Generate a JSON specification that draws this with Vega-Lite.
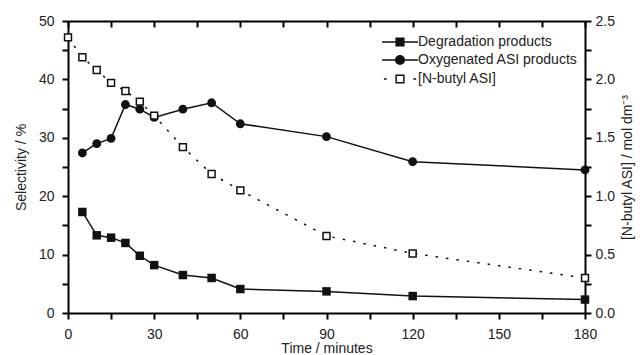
{
  "$schema": "https://vega.github.io/schema/vega-lite/v6.json",
  "width": 517,
  "height": 292,
  "autosize": {"type": "none"},
  "padding": {"left": 68, "top": 21, "right": 57, "bottom": 42},
  "data": {
    "values": [
      {"time": 5, "series": "Degradation products", "value": 17.3},
      {"time": 10, "series": "Degradation products", "value": 13.3},
      {"time": 15, "series": "Degradation products", "value": 12.9},
      {"time": 20, "series": "Degradation products", "value": 12.0},
      {"time": 25, "series": "Degradation products", "value": 9.8},
      {"time": 30, "series": "Degradation products", "value": 8.2},
      {"time": 40, "series": "Degradation products", "value": 6.5},
      {"time": 50, "series": "Degradation products", "value": 6.0},
      {"time": 60, "series": "Degradation products", "value": 4.1},
      {"time": 90, "series": "Degradation products", "value": 3.7},
      {"time": 120, "series": "Degradation products", "value": 2.9},
      {"time": 180, "series": "Degradation products", "value": 2.3},
      {"time": 5, "series": "Oxygenated ASI products", "value": 27.4},
      {"time": 10, "series": "Oxygenated ASI products", "value": 29.0},
      {"time": 15, "series": "Oxygenated ASI products", "value": 29.9},
      {"time": 20, "series": "Oxygenated ASI products", "value": 35.7},
      {"time": 25, "series": "Oxygenated ASI products", "value": 34.9},
      {"time": 30, "series": "Oxygenated ASI products", "value": 33.5},
      {"time": 40, "series": "Oxygenated ASI products", "value": 34.9},
      {"time": 50, "series": "Oxygenated ASI products", "value": 36.0},
      {"time": 60, "series": "Oxygenated ASI products", "value": 32.4},
      {"time": 90, "series": "Oxygenated ASI products", "value": 30.2},
      {"time": 120, "series": "Oxygenated ASI products", "value": 25.9},
      {"time": 180, "series": "Oxygenated ASI products", "value": 24.5},
      {"time": 0, "series": "[N-butyl ASI]", "value": 2.36},
      {"time": 5, "series": "[N-butyl ASI]", "value": 2.19},
      {"time": 10, "series": "[N-butyl ASI]", "value": 2.08},
      {"time": 15, "series": "[N-butyl ASI]", "value": 1.97},
      {"time": 20, "series": "[N-butyl ASI]", "value": 1.90},
      {"time": 25, "series": "[N-butyl ASI]", "value": 1.81},
      {"time": 30, "series": "[N-butyl ASI]", "value": 1.69},
      {"time": 40, "series": "[N-butyl ASI]", "value": 1.42},
      {"time": 50, "series": "[N-butyl ASI]", "value": 1.19},
      {"time": 60, "series": "[N-butyl ASI]", "value": 1.05},
      {"time": 90, "series": "[N-butyl ASI]", "value": 0.66},
      {"time": 120, "series": "[N-butyl ASI]", "value": 0.51},
      {"time": 180, "series": "[N-butyl ASI]", "value": 0.30}
    ]
  },
  "encoding": {
    "x": {
      "field": "time", "type": "quantitative",
      "scale": {"domain": [0, 180], "nice": false},
      "axis": {
        "orient": "bottom",
        "gridOpacity": 0,
        "values": [0, 15, 30, 45, 60, 75, 90, 105, 120, 135, 150, 165, 180],
        "labelExpr": "datum.value % 30 === 0 ? datum.label : ''",
        "domainColor": "black", "domainWidth": 2,
        "tickColor": "black", "tickWidth": 2, "tickSize": 6,
        "labelFont": "Liberation Sans", "labelFontSize": 14, "labelColor": "#222",
        "labelPadding": 8, "labelFlush": false,
        "title": "Time / minutes",
        "titleFont": "Liberation Sans", "titleFontSize": 14, "titleFontWeight": "normal", "titleColor": "#222",
        "titlePadding": 0
      }
    }
  },
  "layer": [
    {
      "encoding": {
        "y": {
          "field": "value", "type": "quantitative",
          "scale": {"domain": [0, 50], "nice": false},
          "axis": {
            "orient": "left",
            "gridOpacity": 0,
            "values": [0, 5, 10, 15, 20, 25, 30, 35, 40, 45, 50],
            "labelExpr": "datum.value % 10 === 0 ? datum.label : ''",
            "domainColor": "black", "domainWidth": 2,
            "tickColor": "black", "tickWidth": 2, "tickSize": 6,
            "labelFont": "Liberation Sans", "labelFontSize": 14, "labelColor": "#222",
            "labelPadding": 8,
            "title": "Selectivity / %",
            "titleFont": "Liberation Sans", "titleFontSize": 14, "titleFontWeight": "normal", "titleColor": "#222",
            "titlePadding": 10
          }
        }
      },
      "layer": [
        {
          "transform": [{"filter": "datum.series !== '[N-butyl ASI]'"}],
          "mark": {"type": "line", "color": "#111", "strokeWidth": 1.5},
          "encoding": {"detail": {"field": "series"}}
        },
        {
          "transform": [{"filter": "datum.series === 'Degradation products'"}],
          "mark": {"type": "point", "shape": "square", "filled": true, "color": "#111", "opacity": 1, "size": 72}
        },
        {
          "transform": [{"filter": "datum.series === 'Oxygenated ASI products'"}],
          "mark": {"type": "point", "shape": "circle", "filled": true, "color": "#111", "opacity": 1, "size": 78}
        },
        {
          "transform": [{"filter": "datum.time < 0"}],
          "mark": {"type": "point", "filled": true, "strokeWidth": 1.5, "opacity": 1, "fillOpacity": 1, "strokeOpacity": 1},
          "encoding": {
            "shape": {
              "field": "series", "type": "nominal",
              "scale": {
                "domain": ["Degradation products", "Oxygenated ASI products", "[N-butyl ASI]"],
                "range": [
                  "M-2.57,0H2.57M-0.55,-0.55H0.55V0.55H-0.55Z",
                  "M-2.57,0H2.57M0.62,0A0.62,0.62,0,1,1,-0.62,0A0.62,0.62,0,1,1,0.62,0Z",
                  "M-2.3,0H-1.9M1.9,0H2.3M-0.55,-0.55H0.55V0.55H-0.55Z"
                ]
              },
              "legend": {
                "orient": "none", "legendX": 324, "legendY": 13, "title": null, "padding": 0,
                "labelFont": "Liberation Sans", "labelFontSize": 14, "labelColor": "#222",
                "symbolSize": 196, "rowPadding": 3, "labelOffset": 10, "symbolStrokeWidth": 1.5
              }
            },
            "fill": {
              "field": "series", "type": "nominal",
              "scale": {
                "domain": ["Degradation products", "Oxygenated ASI products", "[N-butyl ASI]"],
                "range": ["#111111", "#111111", "#ffffff"]
              },
              "legend": {
                "orient": "none", "legendX": 324, "legendY": 13, "title": null, "padding": 0,
                "labelFont": "Liberation Sans", "labelFontSize": 14, "labelColor": "#222",
                "symbolSize": 196, "rowPadding": 3, "labelOffset": 10, "symbolStrokeWidth": 1.5
              }
            },
            "stroke": {
              "field": "series", "type": "nominal",
              "scale": {
                "domain": ["Degradation products", "Oxygenated ASI products", "[N-butyl ASI]"],
                "range": ["#111111", "#111111", "#111111"]
              },
              "legend": {
                "orient": "none", "legendX": 324, "legendY": 13, "title": null, "padding": 0,
                "labelFont": "Liberation Sans", "labelFontSize": 14, "labelColor": "#222",
                "symbolSize": 196, "rowPadding": 3, "labelOffset": 10, "symbolStrokeWidth": 1.5
              }
            }
          }
        }
      ]
    },
    {
      "encoding": {
        "x": {
          "field": "time", "type": "quantitative",
          "scale": {"domain": [0, 180], "nice": false},
          "axis": {
            "orient": "top",
            "gridOpacity": 0,
            "values": [0, 15, 30, 45, 60, 75, 90, 105, 120, 135, 150, 165, 180],
            "labels": false,
            "title": null,
            "domainColor": "black", "domainWidth": 2,
            "tickColor": "black", "tickWidth": 2, "tickSize": -6
          }
        },
        "y": {
          "field": "value", "type": "quantitative",
          "scale": {"domain": [0, 2.5], "nice": false},
          "axis": {
            "orient": "right",
            "gridOpacity": 0,
            "values": [0, 0.25, 0.5, 0.75, 1, 1.25, 1.5, 1.75, 2, 2.25, 2.5],
            "format": ".1f",
            "labelExpr": "round(datum.value * 4) % 2 === 0 ? datum.label : ''",
            "domainColor": "black", "domainWidth": 2,
            "tickColor": "black", "tickWidth": 2, "tickSize": 6,
            "labelFont": "Liberation Sans", "labelFontSize": 14, "labelColor": "#222",
            "labelPadding": 4,
            "title": "[N-butyl ASI] / mol dm⁻³",
            "titleFont": "Liberation Sans", "titleFontSize": 14, "titleFontWeight": "normal", "titleColor": "#222",
            "titleAngle": 270,
            "titleBaseline": "top",
            "titlePadding": 6
          }
        }
      },
      "layer": [
        {
          "transform": [{"filter": "datum.series === '[N-butyl ASI]'"}],
          "mark": {"type": "line", "color": "#111", "strokeWidth": 1.5, "strokeDash": [2.5, 8]}
        },
        {
          "transform": [{"filter": "datum.series === '[N-butyl ASI]'"}],
          "mark": {"type": "point", "shape": "square", "filled": false, "fill": "white", "fillOpacity": 1, "stroke": "#111", "strokeWidth": 1.5, "opacity": 1, "size": 48}
        }
      ]
    }
  ],
  "resolve": {"scale": {"y": "independent"}, "axis": {"x": "independent"}}
}
